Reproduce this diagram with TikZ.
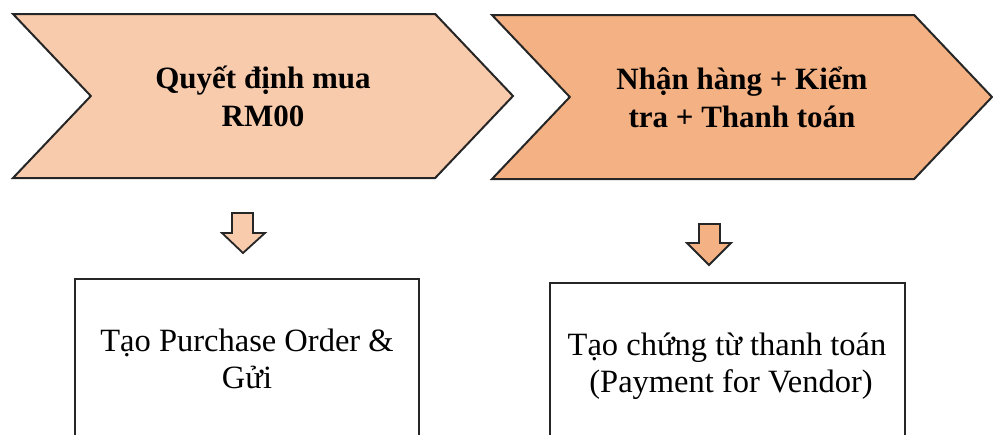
\documentclass[tikz,border=0pt]{standalone}
\usepackage{fontspec}
\setmainfont{Liberation Serif}
\usetikzlibrary{shapes.symbols}

\definecolor{peachlight}{HTML}{F8CBAD}
\definecolor{peachdark}{HTML}{F4B183}

\begin{document}
\begin{tikzpicture}[
    x = 1pt, y = -1pt,
    chevron/.style = {
      signal, signal from = west, signal to = east,
      signal pointer angle = 93,
      draw = black!85, line width = 2pt,
      minimum width = 500pt, minimum height = 164pt,
      align = center, font = \fontsize{31}{38}\selectfont\bfseries
    },
    task/.style = {
      draw = black!85, line width = 2pt, fill = white,
      align = center, font = \fontsize{32.5}{37}\selectfont
    },
    down/.style = {draw = black!85, line width = 1.8pt, line join = miter}
  ]
  \useasboundingbox (0,0) rectangle (993,434);
  \clip (0,0) rectangle (993,434);

  % The two steps
  \node[chevron, fill = peachlight] (buy) at (263,96)
    {Quyết định mua\\RM00};
  \node[chevron, fill = peachdark] (pay) at (742,97)
    {Nhận hàng + Kiểm\\tra + Thanh toán};

  % The two documents (bottom edge runs off the page)
  \node[task, minimum width = 344pt, minimum height = 160pt] (po) at (247,359)
    {Tạo Purchase Order \&\\Gửi};
  \node[task, minimum width = 355pt, minimum height = 166pt] (voucher) at (727,366)
    {Tạo chứng từ thanh toán\\\ (Payment for Vendor)};

  % The two block arrows
  \draw[down, fill = peachlight]
    (232,213) -- (253,213) -- (253,233) -- (265,233) -- (243,253)
    -- (222,233) -- (232,233) -- cycle;
  \draw[down, fill = peachdark]
    (699,224) -- (720,224) -- (720,243) -- (731,243) -- (709,265)
    -- (687,243) -- (699,243) -- cycle;
\end{tikzpicture}
\end{document}
